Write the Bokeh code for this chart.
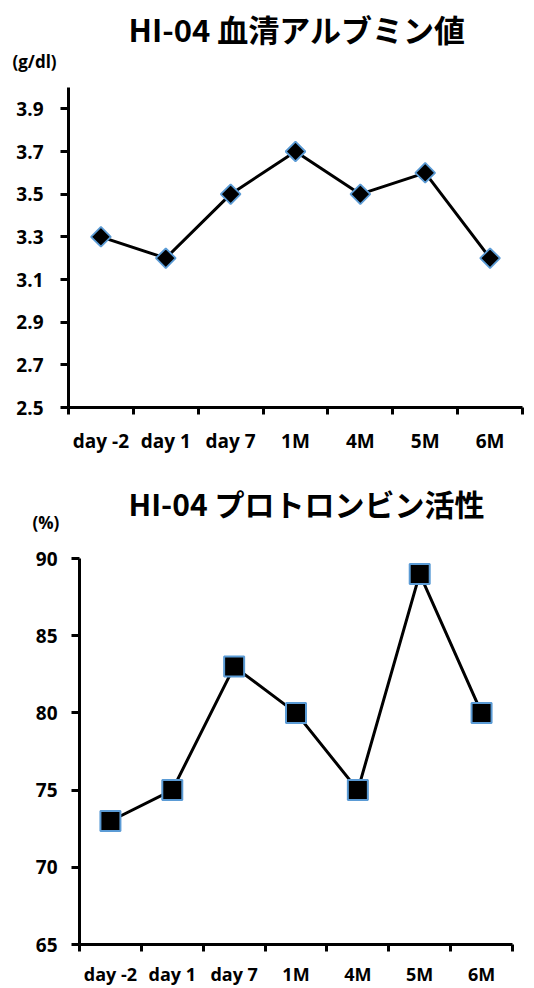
import math
from bokeh.plotting import figure
from bokeh.models import Range1d, FixedTicker, Title
from bokeh.embed import file_html
from bokeh.resources import INLINE

categories = ["day -2", "day 1", "day 7", "1M", "4M", "5M", "6M"]
albumin = [3.3, 3.2, 3.5, 3.7, 3.5, 3.6, 3.2]
prothrombin = [73, 75, 83, 80, 75, 89, 80]
albumin_ticks = [2.5, 2.7, 2.9, 3.1, 3.3, 3.5, 3.7, 3.9]
prothrombin_ticks = [65, 70, 75, 80, 85, 90]

title1 = "HI-04 血清アルブミン値"
title2 = "HI-04 プロトロンビン活性"
unit1 = "(g/dl)"
unit2 = "(%)"

LATIN = "Open Sans"
CJK = "Noto Sans CJK JP"
BLUE = "#5B9BD5"

xs = [i + 0.5 for i in range(len(categories))]
n = len(categories)


def make_fig(height, vals, yr, yticks, title, unit, fmt, b_left, b_right, b_top, b_bottom,
             unit_dx, unit_standoff, title_dx, title_standoff, title_size,
             x_standoff, y_standoff, xfont):
    p = figure(width=534, height=height, output_backend="svg", toolbar_location=None,
               x_range=Range1d(0, n), y_range=Range1d(*yr),
               min_border_left=b_left, min_border_right=b_right,
               min_border_top=b_top, min_border_bottom=b_bottom)
    p.outline_line_color = None
    p.grid.visible = False
    p.background_fill_color = "white"
    p.border_fill_color = "white"
    p.title = None

    p.add_layout(Title(text=unit, align="left", offset=unit_dx, standoff=unit_standoff,
                       text_font=LATIN, text_font_size="17px", text_font_style="bold",
                       text_color="black"), "above")
    p.add_layout(Title(text=title, align="left", offset=title_dx, standoff=title_standoff,
                       text_font=CJK, text_font_size=title_size, text_font_style="bold",
                       text_color="black"), "above")

    xa = p.xaxis[0]
    xa.ticker = FixedTicker(ticks=xs, minor_ticks=list(range(n + 1)))
    xa.major_label_overrides = {x: c for x, c in zip(xs, categories)}
    xa.major_tick_out = 0
    xa.major_tick_in = 0
    xa.minor_tick_out = 7
    xa.minor_tick_in = 0
    xa.minor_tick_line_width = 3
    xa.minor_tick_line_color = "black"
    xa.axis_line_width = 3
    xa.axis_line_color = "black"
    xa.major_label_text_font = LATIN
    xa.major_label_text_font_size = xfont
    xa.major_label_text_font_style = "bold"
    xa.major_label_text_color = "black"
    xa.major_label_standoff = x_standoff

    ya = p.yaxis[0]
    ya.ticker = FixedTicker(ticks=yticks)
    ya.major_label_overrides = {t: fmt(t) for t in yticks}
    ya.major_tick_out = 8
    ya.major_tick_in = 0
    ya.minor_tick_out = 0
    ya.minor_tick_in = 0
    ya.major_tick_line_width = 3
    ya.axis_line_width = 3
    ya.axis_line_color = "black"
    ya.major_label_text_font = LATIN
    ya.major_label_text_font_size = "19px"
    ya.major_label_text_font_style = "bold"
    ya.major_label_text_color = "black"
    ya.major_label_standoff = y_standoff

    p.line(xs, vals, line_color="black", line_width=3)
    return p


p1 = make_fig(470, albumin, (2.5, 4.0), albumin_ticks, title1, unit1,
              lambda t: f"{t:.1f}", 68, 12, 87, 63,
              -56, 30, 60, -37, "31px", 13, 17, "19px")
p1.scatter(xs, albumin, marker="square", size=14, angle=math.pi / 4,
           fill_color="black", line_color=BLUE, line_width=1.8)

p2 = make_fig(518, prothrombin, (65, 90), prothrombin_ticks, title2, unit2,
              lambda t: f"{t:d}", 79, 22, 88, 43,
              -47, 50, 49, -82, "30px", 10, 14, "18px")
p2.scatter(xs, prothrombin, marker="square", size=20,
           fill_color="black", line_color=BLUE, line_width=2)

open("out.html", "w").write(file_html([p1, p2], INLINE))
